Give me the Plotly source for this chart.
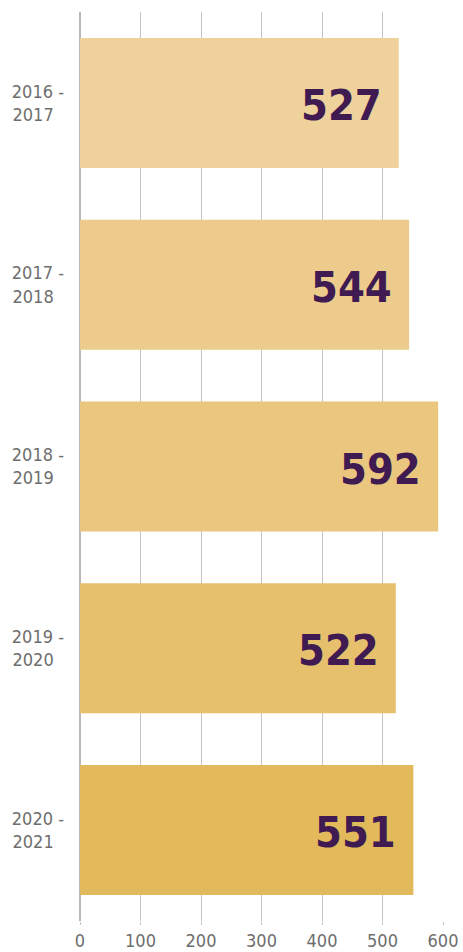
import plotly.graph_objects as go

NB = "\u00a0\u00a0"
categories = ["2016 -<br>2017" + NB, "2017 -<br>2018" + NB, "2018 -<br>2019" + NB,
              "2019 -<br>2020" + NB, "2020 -<br>2021" + NB]
values = [527, 544, 592, 522, 551]
bar_colors = ["#EED19B", "#ECCB8D", "#EAC67E", "#E7C06E", "#E2BA5B"]
x_ticks = [0, 100, 200, 300, 400, 500, 600]

COND = "DejaVu Sans Condensed, Liberation Sans Narrow, Arial Narrow, sans-serif"

fig = go.Figure()
fig.add_trace(go.Bar(
    y=categories, x=values, orientation="h",
    marker=dict(color=bar_colors, line=dict(width=0)),
    hoverinfo="skip",
))

for c, v in zip(categories, values):
    fig.add_annotation(
        x=v, y=c, xref="x", yref="y", text=f"<b>{v}</b>",
        showarrow=False, xanchor="right", xshift=-15, yshift=-2,
        font=dict(family=COND, size=43, color="#3F1B52"),
    )

fig.update_layout(
    width=463, height=952,
    margin=dict(l=80, r=20, t=12, b=31),
    paper_bgcolor="white", plot_bgcolor="white",
    bargap=0.285,
    showlegend=False,
    xaxis=dict(
        range=[0, 600], tickvals=x_ticks, showgrid=True,
        gridcolor="#C4C4C4", gridwidth=1,
        zeroline=True, zerolinecolor="#B8B8B8", zerolinewidth=2,
        ticks="outside", ticklen=3, tickcolor="#C4C4C4",
        tickfont=dict(family=COND, size=18, color="#6E6E6E"),
        showline=False, fixedrange=True, automargin=False,
    ),
    yaxis=dict(
        categoryorder="array", categoryarray=categories, autorange="reversed",
        showgrid=False, ticks="", ticklabelstandoff=15,
        tickfont=dict(family=COND, size=18, color="#6E6E6E"),
        showline=False, fixedrange=True, automargin=False,
    ),
)

fig.write_html(
    "out.html",
    config={"displayModeBar": False},
    post_script="document.body.style.margin='0';document.body.style.overflow='hidden';",
)
